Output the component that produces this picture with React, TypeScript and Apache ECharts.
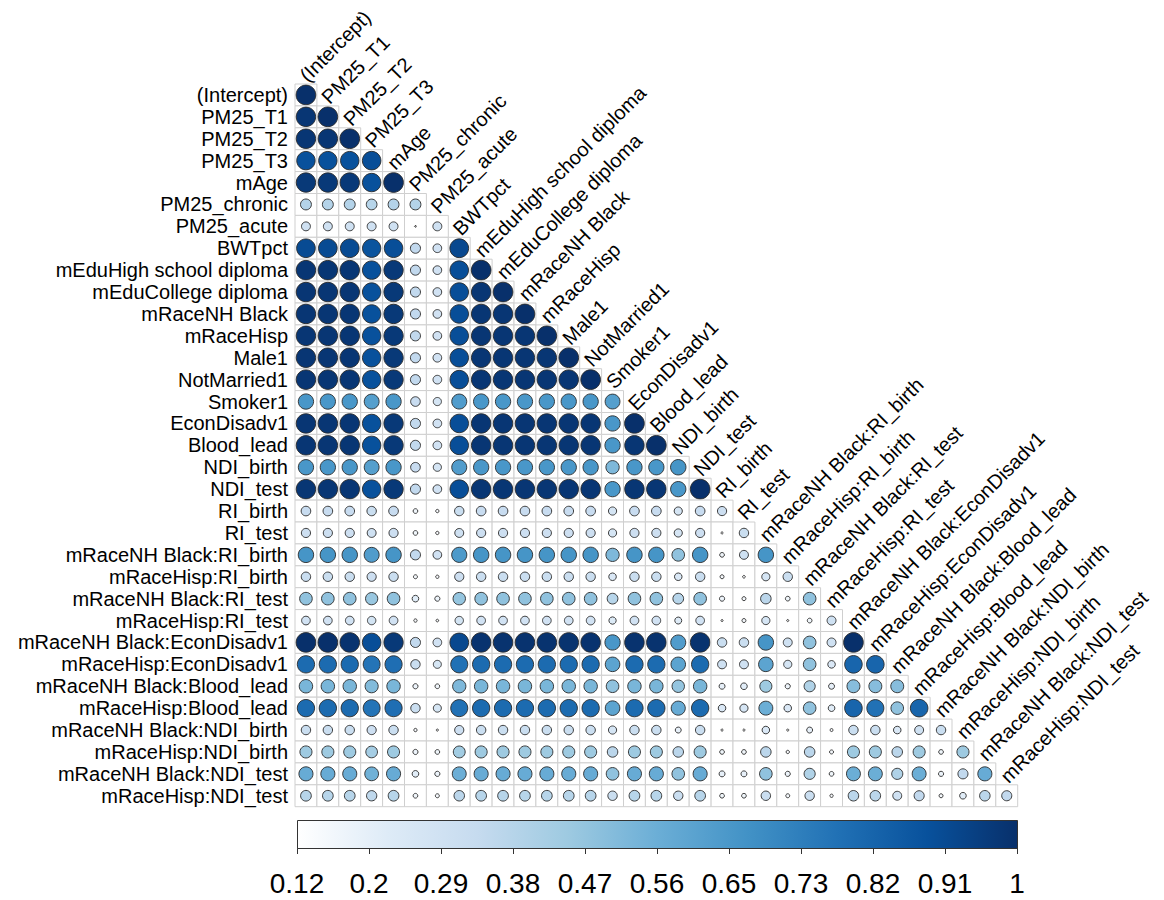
import React, { useEffect, useRef } from "react";
import * as echarts from "echarts";

const variables: string[] = [
  "(Intercept)", "PM25_T1", "PM25_T2", "PM25_T3", "mAge", "PM25_chronic", "PM25_acute", "BWTpct",
  "mEduHigh school diploma", "mEduCollege diploma", "mRaceNH Black", "mRaceHisp", "Male1", "NotMarried1",
  "Smoker1", "EconDisadv1", "Blood_lead", "NDI_birth", "NDI_test", "RI_birth", "RI_test",
  "mRaceNH Black:RI_birth", "mRaceHisp:RI_birth", "mRaceNH Black:RI_test", "mRaceHisp:RI_test",
  "mRaceNH Black:EconDisadv1", "mRaceHisp:EconDisadv1", "mRaceNH Black:Blood_lead", "mRaceHisp:Blood_lead",
  "mRaceNH Black:NDI_birth", "mRaceHisp:NDI_birth", "mRaceNH Black:NDI_test", "mRaceHisp:NDI_test",
];

// lower-triangle values, row i holds columns 0..i
const corrRows: number[][] = [
  [1.0],
  [0.98, 1.0],
  [0.98, 0.98, 1.0],
  [0.89, 0.89, 0.89, 0.9],
  [0.97, 0.97, 0.97, 0.89, 1.0],
  [0.39, 0.39, 0.39, 0.38, 0.39, 0.39],
  [0.3, 0.3, 0.3, 0.3, 0.3, 0.125, 0.3],
  [0.91, 0.91, 0.91, 0.88, 0.9, 0.35, 0.29, 0.92],
  [0.98, 0.98, 0.98, 0.89, 0.97, 0.35, 0.29, 0.9, 1.0],
  [0.98, 0.98, 0.98, 0.89, 0.97, 0.35, 0.29, 0.9, 0.98, 1.0],
  [0.98, 0.98, 0.98, 0.89, 0.97, 0.35, 0.29, 0.9, 0.98, 0.98, 1.0],
  [0.98, 0.98, 0.98, 0.89, 0.97, 0.35, 0.29, 0.9, 0.98, 0.98, 0.98, 1.0],
  [0.98, 0.98, 0.98, 0.89, 0.97, 0.35, 0.29, 0.9, 0.98, 0.98, 0.98, 0.98, 1.0],
  [0.98, 0.98, 0.98, 0.89, 0.97, 0.35, 0.29, 0.9, 0.98, 0.98, 0.98, 0.98, 0.98, 1.0],
  [0.65, 0.65, 0.65, 0.62, 0.65, 0.33, 0.27, 0.63, 0.65, 0.65, 0.65, 0.65, 0.65, 0.65, 0.62],
  [0.98, 0.98, 0.98, 0.89, 0.97, 0.35, 0.29, 0.9, 0.98, 0.98, 0.98, 0.98, 0.98, 0.98, 0.65, 1.0],
  [0.98, 0.98, 0.98, 0.89, 0.97, 0.35, 0.29, 0.9, 0.98, 0.98, 0.98, 0.98, 0.98, 0.98, 0.65, 0.98, 1.0],
  [0.65, 0.65, 0.65, 0.62, 0.65, 0.33, 0.27, 0.63, 0.65, 0.65, 0.65, 0.65, 0.65, 0.65, 0.52, 0.65, 0.65, 0.66],
  [0.98, 0.98, 0.98, 0.89, 0.97, 0.35, 0.29, 0.9, 0.98, 0.98, 0.98, 0.98, 0.98, 0.98, 0.65, 0.98, 0.98, 0.65, 1.0],
  [0.33, 0.33, 0.33, 0.32, 0.33, 0.17, 0.145, 0.32, 0.33, 0.33, 0.33, 0.33, 0.33, 0.33, 0.27, 0.33, 0.33, 0.27, 0.33, 0.31],
  [0.31, 0.31, 0.31, 0.3, 0.31, 0.17, 0.145, 0.3, 0.31, 0.31, 0.31, 0.31, 0.31, 0.31, 0.27, 0.31, 0.31, 0.27, 0.31, 0.13, 0.32],
  [0.66, 0.66, 0.66, 0.63, 0.66, 0.35, 0.29, 0.64, 0.66, 0.66, 0.66, 0.66, 0.66, 0.66, 0.52, 0.66, 0.66, 0.48, 0.66, 0.17, 0.3, 0.66],
  [0.32, 0.32, 0.32, 0.31, 0.32, 0.156, 0.145, 0.31, 0.32, 0.32, 0.32, 0.32, 0.32, 0.32, 0.25, 0.32, 0.32, 0.25, 0.32, 0.156, 0.136, 0.27, 0.32],
  [0.48, 0.48, 0.48, 0.46, 0.48, 0.22, 0.18, 0.47, 0.48, 0.48, 0.48, 0.48, 0.48, 0.48, 0.38, 0.48, 0.48, 0.38, 0.48, 0.18, 0.156, 0.37, 0.17, 0.48],
  [0.29, 0.29, 0.29, 0.28, 0.29, 0.145, 0.136, 0.28, 0.29, 0.29, 0.29, 0.29, 0.29, 0.29, 0.24, 0.29, 0.29, 0.23, 0.29, 0.13, 0.156, 0.27, 0.13, 0.17, 0.3],
  [1.0, 1.0, 0.99, 0.9, 0.97, 0.35, 0.29, 0.92, 0.99, 0.99, 0.99, 0.99, 0.99, 0.99, 0.65, 0.99, 0.99, 0.63, 0.99, 0.32, 0.32, 0.66, 0.3, 0.48, 0.3, 1.0],
  [0.8, 0.8, 0.8, 0.77, 0.79, 0.32, 0.265, 0.78, 0.8, 0.8, 0.8, 0.8, 0.8, 0.8, 0.6, 0.8, 0.8, 0.6, 0.8, 0.3, 0.3, 0.6, 0.27, 0.48, 0.25, 0.82, 0.82],
  [0.53, 0.53, 0.53, 0.51, 0.53, 0.18, 0.17, 0.52, 0.53, 0.53, 0.53, 0.53, 0.53, 0.53, 0.48, 0.53, 0.53, 0.47, 0.53, 0.2, 0.22, 0.45, 0.18, 0.4, 0.2, 0.5, 0.5, 0.5],
  [0.8, 0.8, 0.8, 0.77, 0.79, 0.32, 0.265, 0.78, 0.8, 0.8, 0.8, 0.8, 0.8, 0.8, 0.6, 0.8, 0.8, 0.57, 0.8, 0.25, 0.27, 0.56, 0.25, 0.48, 0.22, 0.82, 0.78, 0.48, 0.82],
  [0.32, 0.32, 0.32, 0.31, 0.32, 0.145, 0.13, 0.31, 0.32, 0.32, 0.32, 0.32, 0.32, 0.32, 0.27, 0.32, 0.32, 0.2, 0.32, 0.13, 0.13, 0.25, 0.13, 0.2, 0.14, 0.32, 0.32, 0.25, 0.3, 0.32],
  [0.45, 0.45, 0.45, 0.43, 0.45, 0.18, 0.17, 0.44, 0.45, 0.45, 0.45, 0.45, 0.45, 0.45, 0.37, 0.45, 0.45, 0.37, 0.45, 0.17, 0.17, 0.37, 0.145, 0.37, 0.156, 0.45, 0.45, 0.37, 0.45, 0.17, 0.45],
  [0.57, 0.57, 0.57, 0.55, 0.57, 0.22, 0.18, 0.56, 0.57, 0.57, 0.57, 0.57, 0.57, 0.57, 0.48, 0.57, 0.57, 0.48, 0.57, 0.2, 0.2, 0.48, 0.18, 0.4, 0.17, 0.56, 0.56, 0.4, 0.56, 0.18, 0.35, 0.57],
  [0.38, 0.38, 0.38, 0.36, 0.38, 0.17, 0.156, 0.37, 0.38, 0.38, 0.38, 0.38, 0.38, 0.38, 0.32, 0.38, 0.38, 0.32, 0.38, 0.17, 0.17, 0.32, 0.156, 0.32, 0.145, 0.37, 0.37, 0.3, 0.35, 0.156, 0.22, 0.37, 0.35],
];

const colorbarTicks: string[] = ["0.12", "0.2", "0.29", "0.38", "0.47", "0.56", "0.65", "0.73", "0.82", "0.91", "1"];
const valueMin = 0.12;
const valueMax = 1;
const palette: string[] = ["#FFFFFF", "#DEEBF7", "#C6DBEF", "#9ECAE1", "#6BAED6", "#4292C6", "#2171B5", "#08519C", "#08306B"];

const FONT = "'Liberation Sans', Arial, Helvetica, sans-serif";

export default function App() {
  const ref = useRef<HTMLDivElement>(null);
  useEffect(() => {
    if (!ref.current) return;
    const chart = echarts.init(ref.current, null, { renderer: "svg" });
    const cells: number[][] = [];
    corrRows.forEach((row, i) => row.forEach((v, j) => cells.push([j, i, v])));
    const labelData = variables.map((_, j) => [j, j]);

    const gridLeft = 295;
    const gridTop = 84;
    const gridSize = 722.7;
    const cbLeft = 297;
    const cbTop = 820;
    const cbWidth = 720;
    const cbHeight = 28;

    const option: any = {
      animation: false,
      backgroundColor: "#ffffff",
      grid: [
        { left: gridLeft, top: gridTop, width: gridSize, height: gridSize, outerBoundsMode: "none", containLabel: false },
        { left: cbLeft, top: cbTop, width: cbWidth, height: cbHeight, outerBoundsMode: "none", containLabel: false },
      ],
      xAxis: [
        {
          type: "category", gridIndex: 0, data: variables, position: "top",
          axisLine: { show: false }, axisTick: { show: false }, axisLabel: { show: false }, splitLine: { show: false },
        },
        {
          type: "category", gridIndex: 1, data: colorbarTicks, boundaryGap: false,
          axisLine: { show: false },
          axisTick: { show: true, length: 6, lineStyle: { color: "#333", width: 1 } },
          axisLabel: { fontSize: 28, color: "#000", fontFamily: FONT, margin: 21, interval: 0 },
          splitLine: { show: false },
        },
      ],
      yAxis: [
        {
          type: "category", gridIndex: 0, data: variables, inverse: true,
          axisLine: { show: false }, axisTick: { show: false }, splitLine: { show: false },
          axisLabel: { fontSize: 20, color: "#000", fontFamily: FONT, margin: 7, interval: 0 },
        },
        { type: "value", gridIndex: 1, show: false },
      ],
      visualMap: {
        type: "continuous", show: false, min: valueMin, max: valueMax, dimension: 2, seriesIndex: 0,
        inRange: { color: palette },
      },
      graphic: [
        {
          type: "rect", left: cbLeft, top: cbTop, z: 5,
          shape: { width: cbWidth, height: cbHeight },
          style: {
            fill: new echarts.graphic.LinearGradient(0, 0, 1, 0,
              palette.map((c, k) => ({ offset: k / (palette.length - 1), color: c }))),
            stroke: "#333", lineWidth: 1,
          },
        },
      ],
      series: [
        {
          type: "custom", coordinateSystem: "cartesian2d", xAxisIndex: 0, yAxisIndex: 0,
          encode: { x: 0, y: 1 }, data: cells, clip: false,
          renderItem: (params: any, api: any) => {
            const c = api.coord([api.value(0), api.value(1)]);
            const s = api.size([1, 1]);
            const t = Math.max(0, (api.value(2) - valueMin) / (valueMax - valueMin));
            const r = 0.45 * Math.sqrt(t) * s[0];
            return {
              type: "group",
              children: [
                {
                  type: "rect",
                  shape: { x: c[0] - s[0] / 2, y: c[1] - s[1] / 2, width: s[0], height: s[1] },
                  style: { fill: "#ffffff", stroke: "#cfcfcf", lineWidth: 1 },
                },
                {
                  type: "circle",
                  shape: { cx: c[0], cy: c[1], r: Math.max(r, 0.8) },
                  style: { fill: api.visual("color"), stroke: "#2a2a2a", lineWidth: 0.9 },
                },
              ],
            };
          },
        },
        {
          type: "custom", coordinateSystem: "cartesian2d", xAxisIndex: 0, yAxisIndex: 0,
          encode: { x: 0, y: 1 }, data: labelData, clip: false, silent: true,
          renderItem: (params: any, api: any) => {
            const c = api.coord([api.value(0), api.value(1)]);
            const s = api.size([1, 1]);
            return {
              type: "text",
              x: c[0] - 0.32 * s[0] + 4,
              y: c[1] - 1.03 * s[1] + 6,
              rotation: Math.PI / 4,
              style: {
                text: variables[params.dataIndex],
                fontSize: 20, fontFamily: FONT, fill: "#000",
                align: "left", verticalAlign: "middle",
              },
            };
          },
        },
      ],
    };
    chart.setOption(option);
    return () => chart.dispose();
  }, []);
  return <div ref={ref} style={{ position: "absolute", left: 0, top: 0, width: 1164, height: 900 }} />;
}
